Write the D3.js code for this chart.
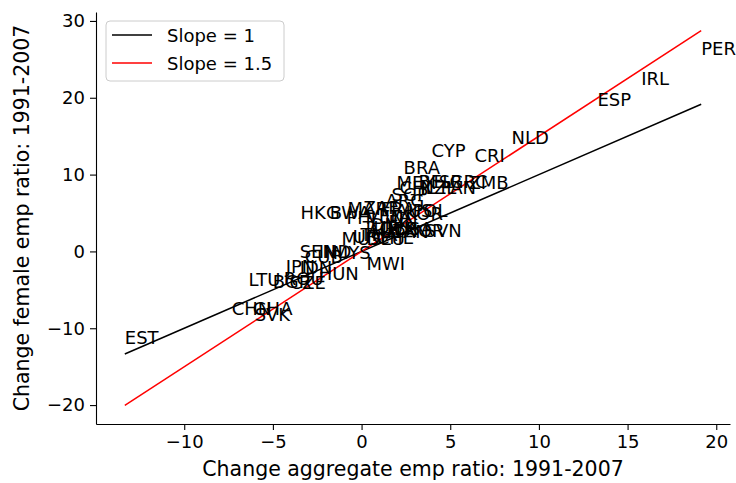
<!DOCTYPE html>
<meta charset="utf-8">
<style>
body { margin: 0; background: #fff; }
svg text { font-family: "DejaVu Sans", sans-serif; fill: #000; }
.tick text { font-size: 18px; }
.lab { font-size: 18px; }
.axis-title { font-size: 20.5px; }
</style>
<svg width="736" height="483"></svg>
<script src="https://cdn.jsdelivr.net/npm/d3@7"></script>
<script>

// country codes with change in aggregate emp ratio (x) and female emp ratio (y)
var codes = ["EST","PER","IRL","ESP","NLD","CRI","CYP","BRA","MEX","BEL","ISR","GRC","ZMB",
  "CHL","NZL","PAN","SGP","ARG","HKG","BWA","MAR","ZAF","FRA","AUS","KOR","POL","PHL","VEN",
  "ITA","SVN","DNK","FIN","GBR","USA","NOR","CAN","TUR","AUT","MUS","THA","CHE","URY","DEU",
  "MWI","SEN","IND","MYS","CUB","JPN","IDN","HUN","LTU","BGR","ROU","CZE","CHN","GHA","SVK"];
var aggChange = [-13.35,19.15,15.77,13.30,8.45,6.37,3.94,2.37,1.97,3.21,4.06,4.96,6.03,
  2.14,3.32,4.45,1.69,1.35,-3.44,-1.80,-0.79,0.11,1.07,1.92,2.48,2.87,-0.85,0.28,
  1.30,3.55,0.51,1.52,1.01,1.92,2.42,1.63,0.06,0.34,-1.13,-0.06,0.85,-0.50,0.28,
  0.28,-3.49,-2.42,-1.63,-3.21,-4.28,-3.49,-2.42,-6.37,-5.01,-4.39,-4.06,-7.32,-6.14,-6.03];
var femChange = [-12.0,25.6,21.7,18.9,14.0,11.6,12.3,10.1,8.15,8.3,8.3,8.3,8.15,
  7.5,7.5,7.5,6.5,5.8,4.27,4.27,4.8,4.9,4.8,4.5,4.1,4.5,3.6,3.75,
  3.75,1.94,2.7,3.0,2.2,2.2,1.94,1.7,2.3,1.94,0.9,1.4,1.0,1.16,0.78,
  -2.46,-0.9,-0.9,-1.03,-1.55,-2.85,-2.98,-3.75,-4.53,-4.79,-4.4,-4.9,-8.28,-8.28,-9.06];

var slopes = [1, 1.5];
var slopeColors = ["#000000", "#ff0000"];
var legendLabels = ["Slope = 1", "Slope = 1.5"];
var xTicks = [-10, -5, 0, 5, 10, 15, 20];
var yTicks = [-20, -10, 0, 10, 20, 30];

var svg = d3.select("svg"),
    mLeft = 96, mRight = 730, mTop = 12, mBottom = 424;

var xExt = d3.extent(aggChange);
// autoscale like matplotlib: 5% margins around the fitted lines
var lineYs = [];
slopes.forEach(function(s) { lineYs.push(s * xExt[0], s * xExt[1]); });
var yExt = d3.extent(lineYs);
var xPad = (xExt[1] - xExt[0]) * 0.05,
    yPad = (yExt[1] - yExt[0]) * 0.05;

var x = d3.scaleLinear().domain([xExt[0] - xPad, xExt[1] + xPad]).range([mLeft, mRight]);
var y = d3.scaleLinear().domain([yExt[0] - yPad, yExt[1] + yPad]).range([mBottom, mTop]);

var fmt = d3.format("");

svg.append("g")
    .attr("transform", "translate(0," + mBottom + ")")
    .call(d3.axisBottom(x).tickValues(xTicks).tickFormat(fmt).tickSize(6).tickPadding(5).tickSizeOuter(0))
    .call(function(g) { g.selectAll("path, line").attr("stroke", "#000").attr("stroke-width", 1.1); });

svg.append("g")
    .attr("transform", "translate(" + mLeft + ",0)")
    .call(d3.axisLeft(y).tickValues(yTicks).tickFormat(fmt).tickSize(6).tickPadding(5).tickSizeOuter(0))
    .call(function(g) { g.selectAll("path, line").attr("stroke", "#000").attr("stroke-width", 1.1); });

svg.selectAll(".tick text").attr("font-family", null).attr("font-size", null);

// fitted lines
var line = d3.line().x(function(d) { return x(d[0]); }).y(function(d) { return y(d[1]); });
svg.selectAll(".fit")
    .data(slopes)
  .enter().append("path")
    .attr("class", "fit")
    .attr("fill", "none")
    .attr("stroke", function(d, i) { return slopeColors[i]; })
    .attr("stroke-width", 1.5)
    .attr("d", function(s) { return line([[xExt[0], s * xExt[0]], [xExt[1], s * xExt[1]]]); });

// country labels
svg.selectAll(".lab")
    .data(codes)
  .enter().append("text")
    .attr("class", "lab")
    .attr("x", function(d, i) { return x(aggChange[i]); })
    .attr("y", function(d, i) { return y(femChange[i]); })
    .text(function(d) { return d; });

// axis titles
svg.append("text")
    .attr("class", "axis-title")
    .attr("text-anchor", "middle")
    .attr("x", (mLeft + mRight) / 2)
    .attr("y", 476)
    .text("Change aggregate emp ratio: 1991-2007");

svg.append("text")
    .attr("class", "axis-title")
    .attr("text-anchor", "middle")
    .attr("transform", "translate(29," + (mTop + mBottom) / 2 + ") rotate(-90)")
    .text("Change female emp ratio: 1991-2007");

// legend
var legend = svg.append("g").attr("transform", "translate(106,21)");
legend.append("rect")
    .attr("width", 178).attr("height", 60).attr("rx", 4)
    .attr("fill", "#fff").attr("fill-opacity", 0.8)
    .attr("stroke", "#cccccc");
var item = legend.selectAll(".item")
    .data(legendLabels)
  .enter().append("g")
    .attr("transform", function(d, i) { return "translate(0," + (14 + i * 28) + ")"; });
item.append("line")
    .attr("x1", 6).attr("x2", 46)
    .attr("stroke", function(d, i) { return slopeColors[i]; })
    .attr("stroke-width", 1.5);
item.append("text")
    .attr("x", 61).attr("y", 6.5)
    .style("font-size", "18px")
    .text(function(d) { return d; });

</script>
